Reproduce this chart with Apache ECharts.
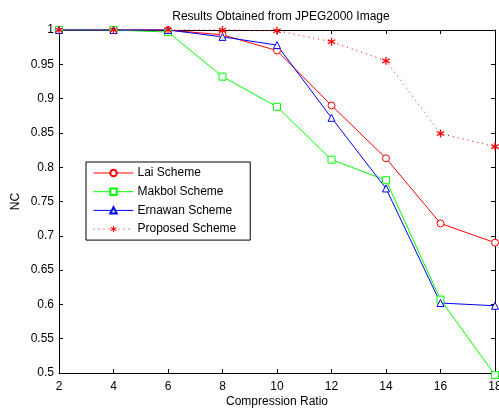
<!DOCTYPE html>
<html>
<head>
<meta charset="utf-8">
<script src="https://cdn.jsdelivr.net/npm/echarts@6/dist/echarts.min.js"></script>
<style>
  html, body { margin: 0; padding: 0; background: #fff; }
  #chart { width: 499px; height: 408px; }
</style>
</head>
<body>
<div id="chart"></div>
<script>
// compression ratios
const ratios = [2, 4, 6, 8, 10, 12, 14, 16, 18];
// NC values per scheme
const laiValues = [1, 1, 1, 0.993, 0.97, 0.89, 0.813, 0.718, 0.69];
const makbolValues = [1, 1, 0.997, 0.932, 0.888, 0.811, 0.781, 0.607, 0.497];
const ernawanValues = [1, 1, 1, 0.99, 0.978, 0.872, 0.769, 0.602, 0.598];
const proposedValues = [1, 1, 1, 1, 0.999, 0.983, 0.955, 0.849, 0.83];

const fontFamily = 'Liberation Sans, Arial, sans-serif';
// asterisk marker (single outline so the centre stays filled)
const starPath = 'path://M1.5,10 L-1.5,10 L-1.5,2.6 L-7.91,6.3 L-9.41,3.7 L-3,0 L-9.41,-3.7 L-7.91,-6.3 L-1.5,-2.6 L-1.5,-10 L1.5,-10 L1.5,-2.6 L7.91,-6.3 L9.41,-3.7 L3,0 L9.41,3.7 L7.91,6.3 L1.5,2.6 Z';

const toPairs = (vals) => ratios.map((r, i) => [r, vals[i]]);

const myChart = echarts.init(document.getElementById('chart'));

const makeSeries = (name, vals, color, symbol, size, dotted) => ({
  name: name,
  type: 'line',
  data: toPairs(vals),
  symbol: symbol,
  symbolSize: size,
  showSymbol: true,
  clip: false,
  lineStyle: { color: color, width: 1, type: dotted ? [1, 4] : 'solid' },
  itemStyle: { color: dotted ? color : '#fff', borderColor: color, borderWidth: dotted ? 0 : 1 },
  z: 3,
});

const hiddenAxisBits = {
  axisLabel: { show: false },
  axisLine: { show: true, lineStyle: { color: '#000', width: 1 } },
  axisTick: { show: true, inside: true, length: 4, lineStyle: { color: '#000' } },
  splitLine: { show: false },
};

const option = {
  animation: false,
  backgroundColor: '#fff',
  title: {
    text: 'Results Obtained from JPEG2000 Image',
    left: 276,
    textAlign: 'center',
    top: 6,
    textStyle: { fontFamily: fontFamily, fontSize: 12, fontWeight: 'normal', color: '#000' },
  },
  grid: { left: 59, right: 4, top: 30, bottom: 35, outerBoundsMode: 'none' },
  legend: {
    orient: 'vertical',
    left: 86,
    top: 162,
    padding: [4, 14, 4, 7],
    itemWidth: 40,
    itemHeight: 8,
    itemGap: 4.7,
    borderColor: '#000',
    borderWidth: 1,
    backgroundColor: '#fff',
    lineStyle: { width: 1 },
    textStyle: { fontFamily: fontFamily, fontSize: 12, color: '#000', padding: [0, 0, 0, -1], lineHeight: 14 },
    data: ['Lai Scheme', 'Makbol Scheme', 'Ernawan Scheme', 'Proposed Scheme'],
  },
  xAxis: [
    {
      type: 'value',
      min: 2,
      max: 18,
      interval: 2,
      name: 'Compression Ratio',
      nameLocation: 'middle',
      nameGap: 23,
      nameMoveOverlap: false,
      nameTextStyle: { fontFamily: fontFamily, fontSize: 12, color: '#000' },
      axisLine: { lineStyle: { color: '#000', width: 1 } },
      axisTick: { inside: true, length: 4, lineStyle: { color: '#000' } },
      axisLabel: { fontFamily: fontFamily, fontSize: 12, color: '#000', margin: 8 },
      splitLine: { show: false },
    },
    Object.assign({ type: 'value', position: 'top', min: 2, max: 18, interval: 2 }, hiddenAxisBits),
  ],
  yAxis: [
    {
      type: 'value',
      min: 0.5,
      max: 1,
      interval: 0.05,
      name: 'NC',
      nameLocation: 'middle',
      nameGap: 37,
      nameMoveOverlap: false,
      nameTextStyle: { fontFamily: fontFamily, fontSize: 12, color: '#000' },
      axisLine: { show: true, lineStyle: { color: '#000', width: 1 } },
      axisTick: { show: true, inside: true, length: 4, lineStyle: { color: '#000' } },
      axisLabel: { fontFamily: fontFamily, fontSize: 12, color: '#000', margin: 5 },
      splitLine: { show: false },
    },
    Object.assign({ type: 'value', position: 'right', min: 0.5, max: 1, interval: 0.05 }, hiddenAxisBits),
  ],
  series: [
    makeSeries('Lai Scheme', laiValues, '#ff0000', 'circle', 7, false),
    makeSeries('Makbol Scheme', makbolValues, '#00ff00', 'rect', 7, false),
    makeSeries('Ernawan Scheme', ernawanValues, '#0000ff', 'triangle', 7, false),
    makeSeries('Proposed Scheme', proposedValues, '#ff0000', starPath, 8, true),
  ],
};
myChart.setOption(option);
</script>
</body>
</html>
